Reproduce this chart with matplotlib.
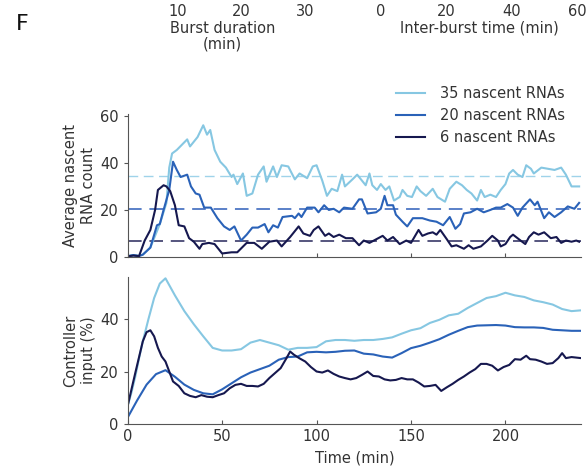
import matplotlib.pyplot as plt
import numpy as np

# ---- data ----
# top panel: average nascent RNA count
t_hi = [0, 3, 6, 8, 12, 17, 20.5, 22, 23.5, 26, 31.5, 33, 37, 40, 42, 43.7, 46, 49, 52, 55,
        56, 58, 61, 63, 66, 69, 72, 73.5, 77, 79, 81.5, 85, 88.5, 91, 95, 98, 100, 103,
        105.5, 108, 111, 113.5, 115, 119, 121.5, 124, 126, 128, 129.5, 132, 134, 136.5,
        138.5, 141, 144, 145.5, 148, 150.5, 153, 155, 158, 161.5, 164, 168, 170.5, 174,
        177, 179.5, 182, 185, 187, 189, 192, 195, 197.5, 200, 202, 204, 206.5, 209, 211,
        213.5, 215, 219, 222.5, 226, 229.5, 232, 235, 239]
rna_hi = [0.5, 0.8, 0.5, 1, 4, 14, 23, 38, 44, 45.5, 50, 47, 51, 56, 52, 54, 45.5, 40.5, 38, 34,
          35, 31, 35.5, 26, 27, 35, 38.5, 32, 38.5, 34, 39, 38.5, 33, 35.5, 33.5, 38.5, 39, 32.5,
          26, 29, 28, 35, 30, 33, 35, 32.5, 30.5, 35.5, 30.5, 28.5, 31, 28.5,
          30, 24, 25.5, 28.5, 26, 25.5, 30, 28, 26, 29, 25.5, 23.5, 29, 32,
          30.5, 28.5, 27, 24, 28.5, 25.5, 26.5, 25.5, 28.5, 31, 35.5, 37, 35, 34, 39,
          37.5, 35.5, 38, 37.5, 37, 38, 35, 30, 30]

t_mid = [0, 3, 6, 8, 12, 15.5, 17, 19, 22, 24, 26, 28, 31.5, 33.5, 36, 38, 40.5, 44, 47.5, 51,
         54, 56.5, 60, 63, 66, 69, 72.5, 74.5, 77, 79.5, 82, 87, 88.5, 90.5, 92, 95, 99, 101,
         104, 106.5, 109, 112, 114.5, 119, 122.5, 124, 127, 131.5, 134, 136, 137.5, 140.5,
         142, 145.5, 148, 151, 156, 160, 163.5, 167, 170.5, 173.5, 176, 178, 181.5, 185,
         188.5, 192, 195, 197.5, 201, 204, 206.5, 209, 213, 215.5, 217, 220.5, 223, 226,
         229.5, 233, 236.5, 239]
rna_mid = [0.3, 0.8, 0.4, 1, 4, 13.5, 14, 20, 28.5, 40.5, 37, 34, 35, 30, 27, 26.5, 21, 21, 16.5, 13,
           11.5, 13, 7, 9.5, 12.5, 12.5, 14, 10.5, 13.5, 12.5, 17, 17.5, 16.5, 18.5, 17, 21, 21, 19,
           22, 20, 20.5, 19, 21, 20.5, 24.5, 24.5, 18.5, 19, 20.5, 26, 22, 22,
           18, 15, 13, 16.5, 16.5, 15.5, 15, 13.5, 17, 12, 14, 18.5, 19, 20.5,
           19, 20, 21, 21, 22.5, 21, 17.5, 21, 24.5, 22, 23.5, 16.5, 19, 17,
           19, 21.5, 20.5, 23]

t_lo = [0, 3, 6, 9, 12, 14.5, 16, 19, 20.5, 22.5, 25, 27, 30, 32.5, 35, 38, 39.5, 43, 46, 48.5,
        50, 55, 58, 63, 67, 71, 75, 79, 81.5, 86, 90.5, 93, 96.5, 98.5, 101, 104.5, 106.5,
        109, 112, 115.5, 119, 122.5, 125, 128, 131.5, 135, 137.5, 140.5, 144, 147.5, 150,
        154, 156, 159, 161.5, 163.5, 165.5, 169, 171.5, 174, 178, 180.5, 183, 187, 190.5,
        193, 196, 197.5, 200, 202.5, 204, 208, 210.5, 212.5, 215, 217.5, 220.5, 224, 227,
        229.5, 232, 235, 237.5, 239]
rna_lo = [0.3, 0.6, 0.4, 7, 11.5, 20, 28.5, 30.5, 30, 28, 22, 13.5, 13, 8, 6.5, 3.5, 5.5, 6, 5.5, 3,
          1.5, 2, 2, 6, 6, 3.5, 6.5, 7, 4.5, 8.5, 13, 10, 9, 11.5, 13, 9, 10,
          8.5, 9.5, 8, 8, 5, 7, 6, 7.5, 9, 7, 8.5, 5.5, 7, 6,
          11.5, 9, 10, 10.5, 9.5, 11.5, 7.5, 4.5, 5, 3.5, 5, 3.5, 4.5, 7,
          9, 7, 4.5, 5.5, 8.5, 9.5, 7, 5.5, 8.5, 10.5, 9.5, 10.5, 8, 8.5,
          6, 7, 6.5, 7, 6.5]

targets = [34.4, 20.6, 6.8]

# bottom panel: controller input (%)
tc_hi = [0, 2, 4, 6, 8, 11, 14, 17, 20, 25, 30, 35, 40, 45, 50, 55, 60, 65, 70, 75, 80, 85, 90,
         95, 100, 105, 110, 115, 120, 125, 130, 135, 140, 145, 150, 155, 160, 165, 170, 175,
         180, 185, 190, 195, 200, 205, 210, 215, 220, 225, 230, 235, 240]
ctl_hi = [7, 12, 18, 25, 31.5, 40, 48, 53.5, 55.5, 49, 43, 38, 33.4, 29, 28, 28, 28.5, 31, 32, 31,
          30, 28.3, 29, 29, 29.3, 31.5, 32, 32, 31.7, 32, 32, 32.4, 33, 34.4, 35.7, 36.5, 38.5,
          39.7, 41.4, 42, 44.2, 46.1, 48, 48.7, 50, 49, 48.4, 47.1, 46.4, 45.5, 43.8, 43, 43.3]

tc_mid = [0, 5, 10, 15, 20, 25, 30, 35, 40, 45, 50, 55, 60, 65, 70, 75, 80, 85, 90, 95, 100, 105,
          110, 115, 120, 125, 130, 135, 140, 145, 150, 155, 160, 165, 170, 175, 180, 185, 190,
          195, 200, 205, 210, 215, 220, 225, 230, 235, 240]
ctl_mid = [2.5, 9, 15, 19, 20.5, 18, 15, 13, 11.7, 11.3, 13.2, 15.5, 17.8, 19.6, 20.9, 22.2, 24.5,
           25.5, 25.7, 27.3, 27.5, 27.3, 27.5, 27.9, 28, 26.8, 26.5, 25.7, 25.3, 27, 28.9, 29.8,
           31, 32.3, 34, 35.5, 36.9, 37.5, 37.6, 37.7, 37.5, 36.9, 36.8, 36.8, 36.6, 35.9, 35.7,
           35.5, 35.5]

tc_lo = [0, 4, 8, 10, 12, 14, 16, 18, 20, 22, 24, 27, 30, 33, 36, 39, 42, 45, 48, 51, 54, 57, 60,
         63, 66, 69, 72, 75, 78, 81, 84, 86, 88, 91, 94, 97, 100, 103, 106, 109, 112, 115, 118,
         121, 124, 127, 130, 133, 136, 139, 142, 145, 148, 151, 154, 157, 160, 163, 166, 169,
         172, 175, 178, 181, 184, 187, 190, 193, 196, 199, 202, 205, 208, 211, 213, 216, 219,
         222, 225, 228, 230, 232, 235, 240]
ctl_lo = [7, 19.4, 31.5, 35, 35.7, 33.4, 29, 25.7, 23.8, 20, 16.2, 14.5, 11.7, 10.7, 10.2, 11,
          10.4, 10.2, 11, 11.7, 13.6, 14.9, 15.3, 14.5, 14.5, 14.3, 15.3, 17.5, 19.4, 21.3, 25,
          27.6, 26.4, 25, 23.8, 21.7, 20, 19.6, 20.4, 19.1, 18.1, 17.5, 17, 17.5, 18.7, 20, 18.3,
          18.1, 17, 16.6, 16.8, 17.5, 17, 17, 15.8, 14.3, 14.5, 14.9, 12.6, 14, 15.3, 16.8, 18.1,
          19.6, 20.9, 22.9, 22.9, 22.2, 20.4, 21.7, 22.5, 24.7, 24.5, 26, 24.7, 24.5, 23.8, 22.9,
          23.2, 25.1, 27, 25.1, 25.5, 25.1]

labels = ['35 nascent RNAs', '20 nascent RNAs', '6 nascent RNAs']
colors = ['#86c7e2', '#2a62b8', '#16184f']
dash_colors = ['#9fd3ea', '#5a80c8', '#55557e']
dash_widths = [1.0, 1.4, 1.4]

plt.rcParams['font.family'] = ['Verdana', 'DejaVu Sans']
plt.rcParams['font.size'] = 10.5
txt = '#333333'

W, H = 587, 470
fig = plt.figure(figsize=(W / 100, H / 100), dpi=100)

def frac(x0, y_top, x1, y_bot):
    return [x0 / W, 1 - y_bot / H, (x1 - x0) / W, (y_bot - y_top) / H]

ax1 = fig.add_axes(frac(127.7, 113.5, 581, 257))
ax2 = fig.add_axes(frac(127.7, 277, 581, 424))

for t, v, c, lab in zip([t_hi, t_mid, t_lo], [rna_hi, rna_mid, rna_lo], colors, labels):
    ax1.plot(t, v, color=c, lw=1.5, label=lab)
for y, c, w in zip(targets, dash_colors, dash_widths):
    ax1.axhline(y, color=c, lw=w, ls=(0, (7, 4)), zorder=0)

for t, v, c in zip([tc_hi, tc_mid, tc_lo], [ctl_hi, ctl_mid, ctl_lo], colors):
    ax2.plot(t, v, color=c, lw=1.5)

for ax in (ax1, ax2):
    ax.set_xlim(0, 240)
    ax.spines['top'].set_visible(False)
    ax.spines['right'].set_visible(False)
    for s in ('left', 'bottom'):
        ax.spines[s].set_color('#555555')
    ax.tick_params(colors='#555555', labelcolor=txt, length=3)
    ax.tick_params(axis='x', direction='in')
    ax.set_xticks([0, 50, 100, 150, 200])

ax1.set_ylim(0, 61)
ax1.set_yticks([0, 20, 40, 60])
ax1.tick_params(axis='x', labelbottom=False)
ax1.set_ylabel('Average nascent\nRNA count', color=txt, labelpad=3)

ax2.set_ylim(0, 56)
ax2.set_yticks([0, 20, 40])
ax2.set_xlabel('Time (min)', color=txt, labelpad=5)
ax2.set_ylabel('Controller\ninput (%)', color=txt, labelpad=3)

ax1.legend(loc='upper left', bbox_to_anchor=(390 / W, 1 - 80 / H), bbox_transform=fig.transFigure,
           frameon=False, handlelength=2.0, handletextpad=1.0, labelspacing=0.5,
           borderaxespad=0, labelcolor=txt)

# top: axes whose only visible parts are tick labels and xlabels
top_axes = [
    (frac(115, -2, 330, 0), (0, 34), [10, 20, 30], 'Burst duration\n(min)'),
    (frac(381, -2, 577, 0), (0, 60), [0, 20, 40, 60], 'Inter-burst time (min)'),
]
for pos, lim, ticks, lab in top_axes:
    a = fig.add_axes(pos)
    a.set_xlim(*lim)
    a.set_xticks(ticks)
    a.set_yticks([])
    for s in a.spines.values():
        s.set_visible(False)
    a.patch.set_visible(False)
    a.tick_params(axis='x', length=0, pad=3, labelcolor=txt)
    a.set_xlabel(lab, color=txt, labelpad=1, linespacing=1.1)

fig.text(16 / W, 1 - 24 / H, 'F', fontsize=16, va='center', ha='left', color='#111111')

fig.savefig('out.png', dpi=100)
